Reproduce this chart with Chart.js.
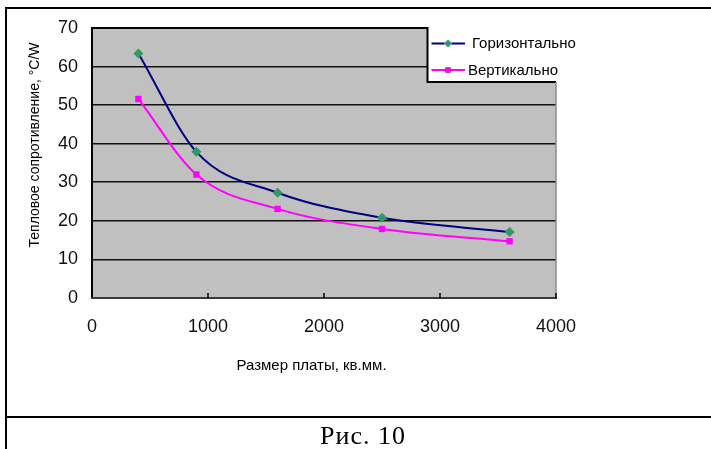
<!DOCTYPE html>
<html>
<head>
<meta charset="utf-8">
<script src="https://cdn.jsdelivr.net/npm/chart.js@4/dist/chart.umd.min.js"></script>
<style>
html,body{margin:0;padding:0;background:#fff;}
#wrap{position:relative;width:711px;height:449px;overflow:hidden;}
#c{position:absolute;left:0;top:0;}
.ln{position:absolute;background:#000;}
#cap{position:absolute;left:0;width:726px;top:421px;height:30px;text-align:center;font-family:"Liberation Serif","Times New Roman",serif;font-size:26px;line-height:30px;letter-spacing:1px;color:#000;}
</style>
</head>
<body>
<div id="wrap">
<canvas id="c" width="711" height="449"></canvas>
<div class="ln" style="left:5px;top:7px;width:720px;height:2px"></div>
<div class="ln" style="left:5px;top:7px;width:2px;height:450px"></div>
<div class="ln" style="left:5px;top:416px;width:720px;height:2px"></div>
<div id="cap">Рис. 10</div>
</div>
<script>
// ---- data ----
const boardSizes = [400, 900, 1600, 2500, 3600];
const horizontalValues = [63.4, 37.9, 27.3, 20.8, 17.1];
const verticalValues = [51.6, 32.0, 23.1, 17.9, 14.7];
const seriesNames = ['Горизонтально', 'Вертикально'];
const xTickValues = [0, 1000, 2000, 3000, 4000];
const yTickValues = [0, 10, 20, 30, 40, 50, 60, 70];
const xAxisTitle = 'Размер платы, кв.мм.';
const yAxisTitle = 'Тепловое сопротивление, °C/W';

const FONT = '"Liberation Sans", Arial, sans-serif';

const toPoints = vals => boardSizes.map((x, i) => ({x: x, y: vals[i]}));

const framePlugin = {
  id: 'frame',
  beforeDraw(chart) {
    const {ctx, chartArea: a} = chart;
    ctx.save();
    ctx.fillStyle = '#c0c0c0';
    ctx.fillRect(a.left, a.top, a.right - a.left, a.bottom - a.top);
    ctx.restore();
  },
  afterDatasetsDraw(chart) {
    const {ctx, chartArea: a, scales} = chart;
    const legLeft = 427.5, legBottom = 82;
    ctx.save();
    // legend box (covers the top-right of the plot)
    ctx.fillStyle = '#ffffff';
    ctx.fillRect(legLeft, a.top - 3, 200, legBottom - a.top + 3);
    ctx.lineCap = 'butt';
    // plot frame
    ctx.strokeStyle = '#000';
    ctx.lineWidth = 2;
    ctx.beginPath();
    ctx.moveTo(a.left, a.bottom); ctx.lineTo(a.left, a.top);
    ctx.lineTo(legLeft, a.top); ctx.lineTo(legLeft, legBottom);
    ctx.lineTo(a.right, legBottom);
    ctx.stroke();
    ctx.strokeStyle = '#8c8c8c';
    ctx.lineWidth = 1.5;
    ctx.beginPath();
    ctx.moveTo(a.right, legBottom); ctx.lineTo(a.right, a.bottom);
    ctx.stroke();
    ctx.strokeStyle = '#3a3a3a';
    ctx.lineWidth = 2;
    ctx.beginPath();
    ctx.moveTo(a.left - 1, a.bottom); ctx.lineTo(a.right + 1, a.bottom);
    ctx.stroke();
    // inward x tick marks
    ctx.strokeStyle = '#000';
    ctx.lineWidth = 1.5;
    xTickValues.slice(1).forEach(v => {
      const px = scales.x.getPixelForValue(v);
      ctx.beginPath();
      ctx.moveTo(px, a.bottom - 5); ctx.lineTo(px, a.bottom);
      ctx.stroke();
    });
    // legend items
    const legY = [43.5, 70];
    const legTextX = [472, 468];
    chart.data.datasets.forEach((ds, i) => {
      const y = legY[i];
      ctx.strokeStyle = ds.borderColor;
      ctx.lineWidth = 2;
      ctx.beginPath();
      ctx.moveTo(431.5, y); ctx.lineTo(465, y);
      ctx.stroke();
      Chart.helpers.drawPoint(ctx, {pointStyle: ds.pointStyle, radius: ds.pointRadius - 1, rotation: 0, borderWidth: 0},
        448, y);
      ctx.fillStyle = ds.pointBackgroundColor;
      ctx.fill();
      ctx.fillStyle = '#000';
      ctx.font = '15px ' + FONT;
      ctx.textAlign = 'left';
      ctx.textBaseline = 'middle';
      ctx.fillText(ds.label, legTextX[i], y + 0.5);
    });
    // axis titles
    ctx.fillStyle = '#000';
    ctx.font = '15px ' + FONT;
    ctx.textAlign = 'center';
    ctx.textBaseline = 'middle';
    ctx.fillText(xAxisTitle, 311.5, 365.5);
    ctx.save();
    ctx.translate(35.5, 145);
    ctx.rotate(-Math.PI / 2);
    ctx.font = '14px ' + FONT;
    ctx.fillText(yAxisTitle, 0, 0);
    ctx.restore();
    ctx.restore();
  }
};

new Chart(document.getElementById('c'), {
  type: 'line',
  data: {
    datasets: [
      {
        label: seriesNames[0],
        data: toPoints(horizontalValues),
        borderColor: '#000080',
        borderWidth: 2,
        pointStyle: 'rectRot',
        pointRadius: 5,
        pointBackgroundColor: '#2f9a68',
        pointBorderColor: '#2f9a68',
        pointBorderWidth: 0,
        cubicInterpolationMode: 'monotone',
        fill: false
      },
      {
        label: seriesNames[1],
        data: toPoints(verticalValues),
        borderColor: '#ff00ff',
        borderWidth: 2,
        pointStyle: 'rect',
        pointRadius: 4.5,
        pointBackgroundColor: '#ff00ff',
        pointBorderColor: '#ff00ff',
        pointBorderWidth: 0,
        cubicInterpolationMode: 'monotone',
        fill: false
      }
    ]
  },
  options: {
    responsive: false,
    animation: false,
    devicePixelRatio: 1,
    layout: {padding: {left: 0, top: 28, right: 155, bottom: 0}},
    plugins: {legend: {display: false}, tooltip: {enabled: false}, title: {display: false}},
    scales: {
      x: {
        type: 'linear',
        min: 0, max: 4000,
        afterBuildTicks: s => { s.ticks = xTickValues.map(v => ({value: v})); },
        afterFit: s => { s.height = 151; },
        grid: {display: false, drawTicks: false},
        border: {display: false},
        ticks: {color: '#111', font: {family: FONT, size: 18}, padding: 18, maxRotation: 0, autoSkip: false,
                callback: v => String(v)}
      },
      y: {
        type: 'linear',
        min: 0, max: 70,
        afterBuildTicks: s => { s.ticks = yTickValues.map(v => ({value: v})); },
        afterFit: s => { s.width = 92; },
        grid: {
          drawTicks: false,
          color: c => (c.tick && (c.tick.value === 0 || c.tick.value === 70)) ? 'rgba(0,0,0,0)' : '#111',
          lineWidth: 1.6
        },
        border: {display: false},
        ticks: {color: '#111', font: {family: FONT, size: 18}, padding: 14, callback: v => String(v)}
      }
    }
  },
  plugins: [framePlugin]
});
</script>
</body>
</html>
